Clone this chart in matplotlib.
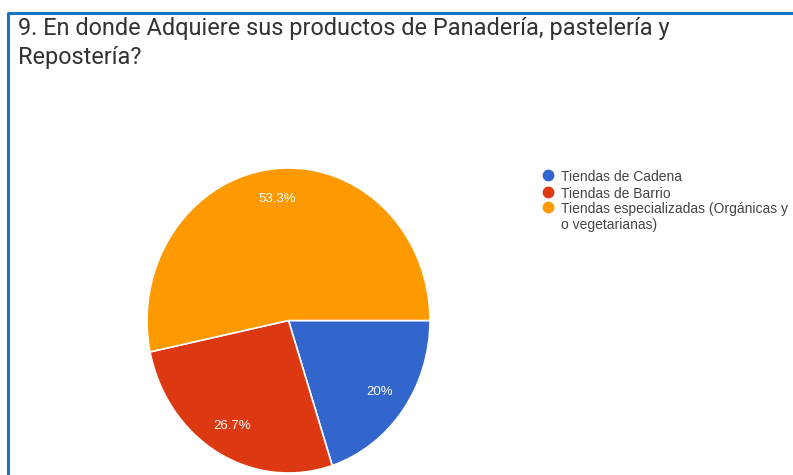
import matplotlib.pyplot as plt
from matplotlib.lines import Line2D

# respuestas de la pregunta 9 (porcentaje)
categorias = ["Tiendas de Cadena", "Tiendas de Barrio",
              "Tiendas especializadas (Orgánicas y\no vegetarianas)"]
porcentajes = [20, 26.7, 53.3]
colores = ["#3366cc", "#dc3912", "#ff9900"]

titulo = "9. En donde Adquiere sus productos de Panadería, pastelería y\nRepostería?"

W, H = 793, 475
fig = plt.figure(figsize=(W / 100, H / 100), dpi=100)
plt.rcParams['font.family'] = ['Roboto', 'DejaVu Sans']
arial = ['Liberation Sans', 'DejaVu Sans']


def fmt(p):
    s = f"{p:.1f}"
    if s.endswith(".0"):
        s = s[:-2]
    return s + "%"


# el pie ocupa una caja un poco mas alta que ancha
ax = fig.add_axes([147 / W, (H - 473) / H, 283 / W, 305 / H])
wedges, texts, autotexts = ax.pie(
    porcentajes, colors=colores, startangle=0, counterclock=False,
    autopct=fmt, pctdistance=0.8,
    wedgeprops=dict(edgecolor="white", linewidth=1.2),
    textprops=dict(color="white", fontsize=9.5, family=arial))
ax.set_aspect("auto")
ax.set_xlim(-1, 1)
ax.set_ylim(-1, 1)
ax.axis("off")

# titulo
fig.text(18 / W, 1 - 17 / H, titulo, ha="left", va="top", fontsize=16.9,
         color="#333333", linespacing=1.36)

# leyenda
ys = [175, 192, 207]
for c, lab, y in zip(colores, categorias, ys):
    fig.add_artist(Line2D([548 / W], [1 - y / H], marker="o", markersize=7.5,
                          color=c, linestyle="none", transform=fig.transFigure))
    fig.text(561 / W, 1 - (y - 5) / H, lab, ha="left", va="top", fontsize=10,
             color="#444444", linespacing=1.15, family=arial)

# marco azul arriba y a la izquierda
fig.add_artist(Line2D([8 / W, 8 / W, 1], [0, 1 - 13 / H, 1 - 13 / H],
                      color="#1a73c8", linewidth=2.2, transform=fig.transFigure))

fig.savefig("out.png", dpi=100)
